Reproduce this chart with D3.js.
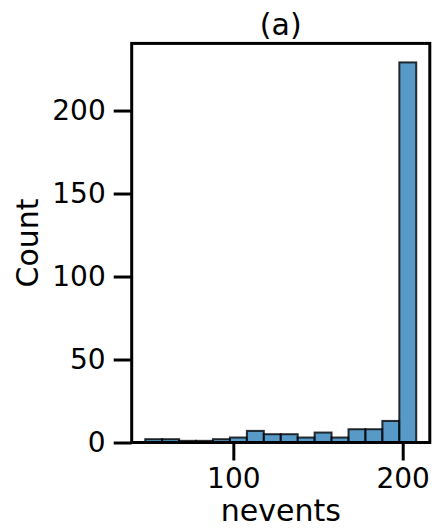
<!DOCTYPE html>
<html>
<head>
<meta charset="utf-8">
<script src="https://cdn.jsdelivr.net/npm/d3@7"></script>
<style>
  html, body { margin: 0; padding: 0; background: #fff; }
  svg text { font-family: "DejaVu Sans", sans-serif; fill: #000; }
</style>
</head>
<body>
<svg id="chart" width="434" height="530"></svg>
<script>
// Histogram of event counts per run: bin edges and counts
const binStart = [48, 58, 68, 78, 88, 98, 108, 118, 128, 138, 148, 158, 168, 178, 188, 198];
const binWidth = 10;
const counts   = [2, 2, 1, 1, 2, 3, 7, 5, 5, 3, 6, 3, 8, 8, 13, 229];
const xTicks = [100, 200];
const yTicks = [0, 50, 100, 150, 200];
const title = "(a)";
const xLabel = "nevents";
const yLabel = "Count";

const svg = d3.select("#chart");
const box = { left: 131.7, right: 429.8, top: 43.4, bottom: 442.5 };

// 5% padding around data range, like the plotting default
const xMin = binStart[0], xMax = binStart[binStart.length - 1] + binWidth;
const xPad = (xMax - xMin) * 0.05;
const x = d3.scaleLinear().domain([xMin - xPad, xMax + xPad]).range([box.left, box.right]);
const yMax = d3.max(counts) * 1.05;
const y = d3.scaleLinear().domain([0, yMax]).range([box.bottom, box.top]);

// bars
svg.append("g").selectAll("rect")
  .data(binStart.map((s, i) => ({ x0: s, x1: s + binWidth, n: counts[i] })))
  .join("rect")
  .attr("x", d => x(d.x0))
  .attr("width", d => x(d.x1) - x(d.x0))
  .attr("y", d => y(d.n))
  .attr("height", d => y(0) - y(d.n))
  .attr("fill", "#1f77b4")
  .attr("fill-opacity", 0.75)
  .attr("stroke", "#000")
  .attr("stroke-opacity", 0.8)
  .attr("stroke-width", 2);

// axes
const tickLen = 18;
const xAxis = d3.axisBottom(x).tickValues(xTicks).tickSize(tickLen).tickPadding(8).tickFormat(d3.format("d"));
const yAxis = d3.axisLeft(y).tickValues(yTicks).tickSize(tickLen).tickPadding(8).tickFormat(d3.format("d"));

const gx = svg.append("g").attr("transform", `translate(0,${box.bottom})`).call(xAxis);
const gy = svg.append("g").attr("transform", `translate(${box.left},0)`).call(yAxis);
[gx, gy].forEach(g => {
  g.select(".domain").remove();
  g.selectAll(".tick line").attr("stroke", "#000").attr("stroke-width", 3);
  g.selectAll(".tick text").attr("font-size", 28).attr("font-family", "DejaVu Sans").attr("fill", "#000");
});

// frame
svg.append("rect")
  .attr("x", box.left).attr("y", box.top)
  .attr("width", box.right - box.left).attr("height", box.bottom - box.top)
  .attr("fill", "none").attr("stroke", "#000").attr("stroke-width", 3);

// labels
const cx = (box.left + box.right) / 2;
svg.append("text").attr("x", cx).attr("y", 35).attr("text-anchor", "middle")
  .attr("font-size", 30).text(title);
svg.append("text").attr("x", cx).attr("y", 521).attr("text-anchor", "middle")
  .attr("font-size", 30).text(xLabel);
svg.append("text")
  .attr("transform", `translate(38,${(box.top + box.bottom) / 2}) rotate(-90)`)
  .attr("text-anchor", "middle").attr("font-size", 30).text(yLabel);
</script>
</body>
</html>
